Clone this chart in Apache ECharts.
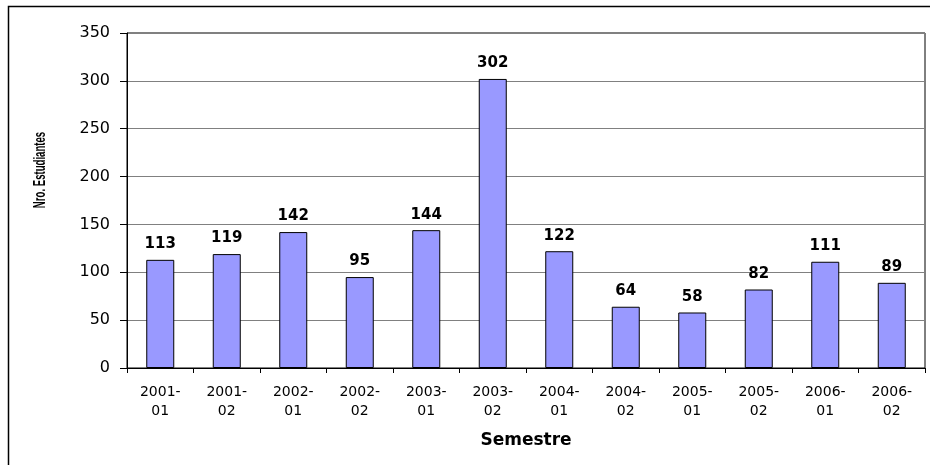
<!DOCTYPE html>
<html>
<head>
<meta charset="utf-8">
<script src="https://cdn.jsdelivr.net/npm/echarts@6/dist/echarts.min.js"></script>
</head>
<body style="margin:0;background:#fff;">

<div id="main" style="width: 930px;height:465px;"></div>

<script type="text/javascript">
    // semestres y nro. de estudiantes
    var semestres = ['2001-01', '2001-02', '2002-01', '2002-02', '2003-01', '2003-02',
        '2004-01', '2004-02', '2005-01', '2005-02', '2006-01', '2006-02'];
    var estudiantes = [113, 119, 142, 95, 144, 302, 122, 64, 58, 82, 111, 89];

    var myChart = echarts.init(document.getElementById('main'));

    var option = {
        backgroundColor: '#fff',
        animation: false,
        grid: {
            left: 127,
            right: 5,
            top: 33,
            bottom: 97,
            show: true,
            borderColor: '#000',
            borderWidth: 1
        },
        graphic: [
            {
                type: 'polyline',
                shape: {points: [[8.5, 465], [8.5, 6.5], [930, 6.5]]},
                style: {stroke: '#000', lineWidth: 1.5, fill: null},
                silent: true
            },
            {
                // titulo del eje y, algo comprimido como en el original
                type: 'text',
                x: 41,
                y: 170,
                rotation: Math.PI / 2,
                scaleX: 0.6,
                style: {
                    text: 'Nro. Estudiantes',
                    fontFamily: 'Liberation Sans',
                    fontWeight: 'bold',
                    fontSize: 16,
                    fill: '#000',
                    align: 'center',
                    verticalAlign: 'middle'
                },
                silent: true
            }
        ],
        xAxis: {
            type: 'category',
            data: semestres,
            name: 'Semestre',
            nameLocation: 'middle',
            nameGap: 64,
            nameTextStyle: {
                fontFamily: 'DejaVu Sans',
                fontWeight: 'bold',
                fontSize: 17,
                color: '#000'
            },
            axisLine: {lineStyle: {color: '#000', width: 1}},
            axisTick: {show: true, length: 5, interval: 0, lineStyle: {color: '#000'}},
            axisLabel: {
                interval: 0,
                margin: 15,
                fontFamily: 'DejaVu Sans',
                fontSize: 14,
                lineHeight: 19,
                color: '#000',
                formatter: function (v) {
                    return v.replace('-', '-\n');
                }
            }
        },
        yAxis: {
            type: 'value',
            min: 0,
            max: 350,
            interval: 50,
            axisLine: {show: true, lineStyle: {color: '#000', width: 1}},
            axisTick: {show: true, length: 7, lineStyle: {color: '#000'}},
            axisLabel: {
                margin: 17,
                fontFamily: 'DejaVu Sans',
                fontSize: 16,
                color: '#000'
            },
            splitLine: {lineStyle: {color: '#808080', width: 1}}
        },
        series: [
            {
                name: 'Estudiantes',
                type: 'bar',
                data: estudiantes,
                barWidth: 28,
                itemStyle: {
                    color: '#9999FF',
                    borderColor: '#000',
                    borderWidth: 1
                },
                label: {
                    show: true,
                    position: 'top',
                    distance: 8,
                    fontFamily: 'DejaVu Sans',
                    fontWeight: 'bold',
                    fontSize: 15,
                    color: '#000'
                }
            }
        ]
    };

    myChart.setOption(option);
</script>
</body>
</html>
